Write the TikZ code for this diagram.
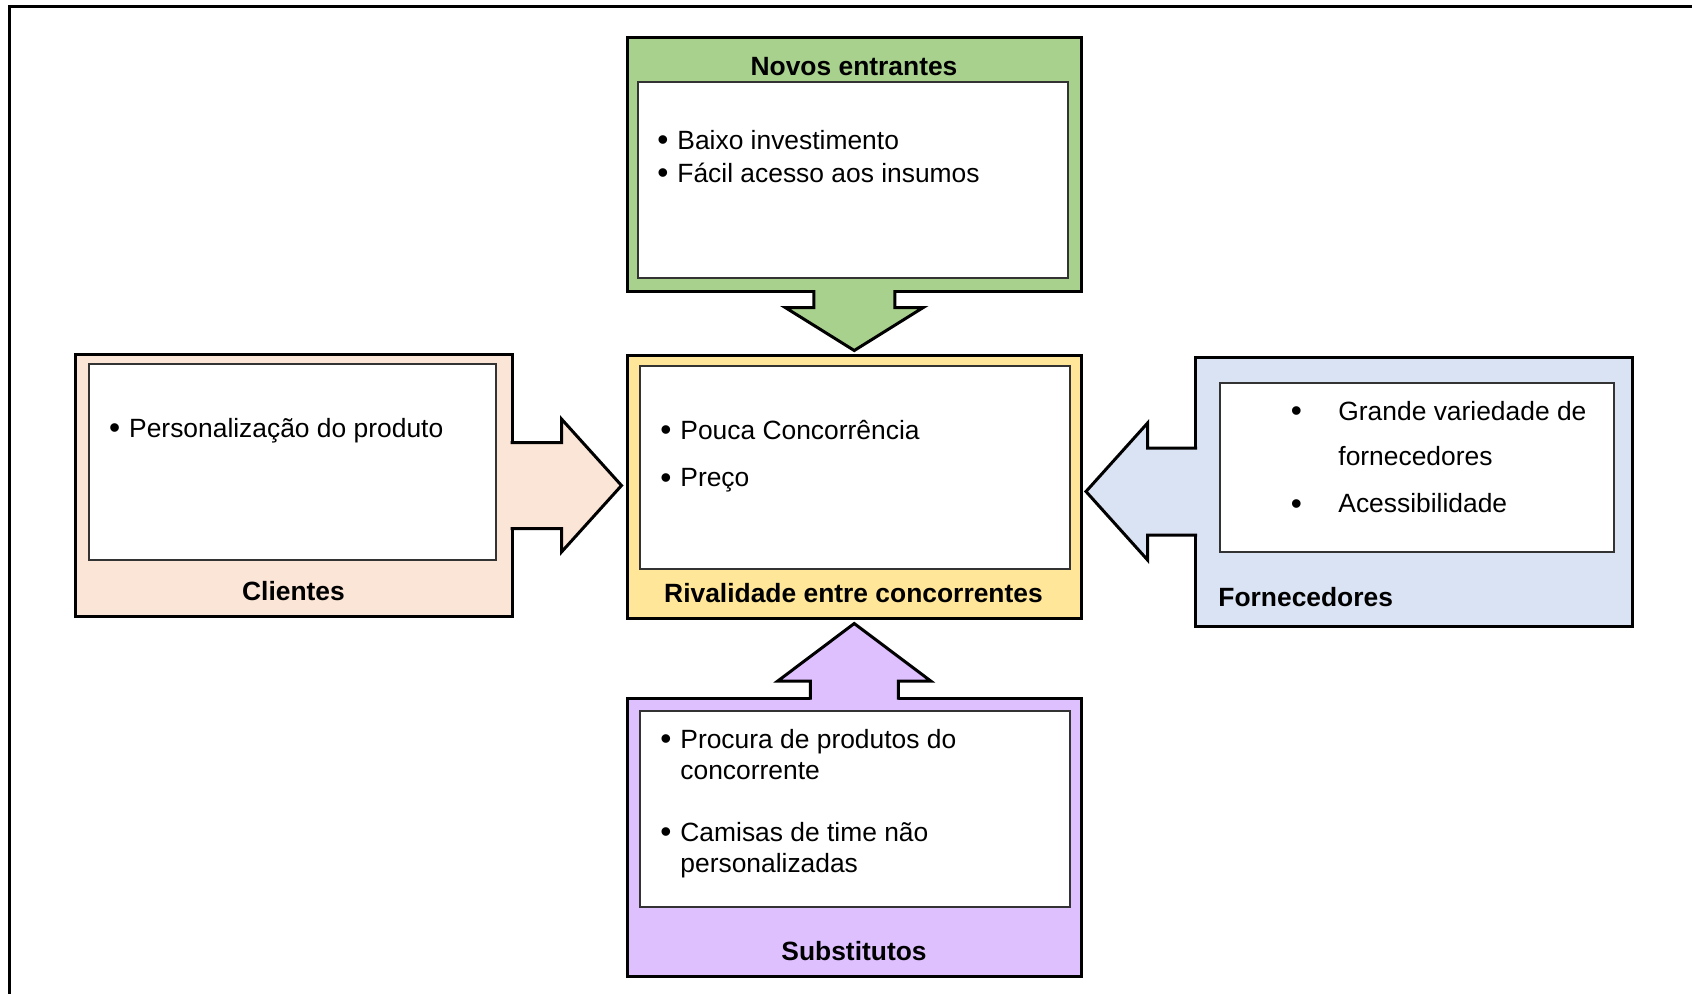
\documentclass[tikz,border=0pt]{standalone}
\usepackage{fontspec}
\setmainfont{Liberation Sans}
\usepackage{tikz}
\usetikzlibrary{calc,positioning}
\definecolor{verde}{HTML}{A9D18E}
\definecolor{amarelo}{HTML}{FFE699}
\definecolor{roxo}{HTML}{DFC0FF}
\definecolor{rosa}{HTML}{FBE5D6}
\definecolor{azul}{HTML}{DAE3F3}

\newcommand{\marcador}[1][10pt]{\makebox[#1][l]{\raisebox{-0.06em}{\scalebox{1.2}{\textbullet}}}}
% seta de bloco: ancora, angulo, cor, meia haste, haste, meia cabeca, ponta
\newcommand{\setabloco}[7]{%
  \fill[#3,shift={(#1)},rotate=#2] (-#4,-3) -- (-#4,#5) -- (-#6,#5) -- (0,#7) -- (#6,#5) -- (#4,#5) -- (#4,-3) -- cycle;
  \draw[borda,shift={(#1)},rotate=#2] (-#4,-1.5) -- (-#4,#5) -- (-#6,#5) -- (0,#7) -- (#6,#5) -- (#4,#5) -- (#4,-1.5);}

\tikzset{
  borda/.style={draw=black,line width=1.5pt},
  caixa/.style={borda,inner sep=0,outer sep=0},
  interna/.style={draw=black!80,line width=1pt,fill=white,inner sep=0,outer sep=0},
  texto/.style={anchor=base west,inner sep=0,font=\fontsize{13.2}{16}\selectfont},
  titulo/.style={anchor=base,inner sep=0,font=\fontsize{13.2}{16}\selectfont\bfseries}
}

\begin{document}
\begin{tikzpicture}[x=0.5pt,y=-0.5pt]
\useasboundingbox (0,0) rectangle (1692,993);
\draw[line width=1.5pt] (9,1000) -- (9,6) -- (1700,6);

% caixas externas
\node[caixa,fill=verde,minimum width=227.25pt,minimum height=127pt] (novos) at (854.25,164.5) {};
\node[caixa,fill=amarelo,minimum width=227.25pt,minimum height=131.5pt] (rival) at (854.25,486.5) {};
\node[caixa,fill=roxo,minimum width=227.25pt,minimum height=139.25pt] (subst) at (854.25,837.25) {};
\node[caixa,fill=rosa,minimum width=218.25pt,minimum height=131pt] (clientes) at (293.75,485.5) {};
\node[caixa,fill=azul,minimum width=218.5pt,minimum height=134.5pt] (fornec) at (1414,491.5) {};

% setas
\setabloco{novos.south}{0}{verde}{40.5}{16}{69}{59}
\setabloco{subst.north}{180}{roxo}{44}{17}{76.5}{74.5}
\setabloco{clientes.east}{90}{rosa}{43}{49.5}{66.5}{109.5}
\setabloco{fornec.west}{-90}{azul}{43.5}{48}{68.4}{109.5}

% caixas internas
\node[interna,minimum width=215pt,minimum height=98.25pt] (novos-in) at (852.5,179.75) {};
\node[interna,minimum width=215pt,minimum height=101.5pt] (rival-in) at (855,467.5) {};
\node[interna,minimum width=215pt,minimum height=98pt] (subst-in) at (855,808.5) {};
\node[interna,minimum width=203.5pt,minimum height=98pt] (clientes-in) at (292,461.5) {};
\node[interna,minimum width=197pt,minimum height=84.5pt] (fornec-in) at (1417,467) {};

% titulos
\node[titulo] (novos-t) at (854,75) {Novos entrantes};
\node[titulo] (rival-t) at (853.5,602.5) {Rivalidade entre concorrentes};
\node[titulo] (subst-t) at (854,960.7) {Substitutos};
\node[titulo] (clientes-t) at (293.5,600) {Clientes};
\node[titulo,anchor=base west] (fornec-t) at (1218,606.7) {Fornecedores};

% itens
\foreach \xx/\yy/\linha [count=\i] in {657/149/{\marcador Baixo investimento},
    657/182/{\marcador Fácil acesso aos insumos}}
  \node[texto] (novos-\i) at (\xx,\yy) {\linha};
\foreach \xx/\yy/\linha [count=\i] in {660/439.3/{\marcador Pouca Concorrência},
    660/486.7/{\marcador Preço}}
  \node[texto] (rival-\i) at (\xx,\yy) {\linha};
\foreach \xx/\yy/\linha [count=\i] in {660/748/{\marcador Procura de produtos do},
    680/779/{concorrente}, 660/841/{\marcador Camisas de time não}, 680/872/{personalizadas}}
  \node[texto] (subst-\i) at (\xx,\yy) {\linha};
\node[texto] (clientes-1) at (108.8,437) {\marcador Personalização do produto};
\foreach \xx/\yy/\linha [count=\i] in {1290.5/420/{\marcador[23.75pt]Grande variedade de},
    1338/465/{fornecedores}, 1290.5/512.7/{\marcador[23.75pt]Acessibilidade}}
  \node[texto] (fornec-\i) at (\xx,\yy) {\linha};
\end{tikzpicture}
\end{document}
